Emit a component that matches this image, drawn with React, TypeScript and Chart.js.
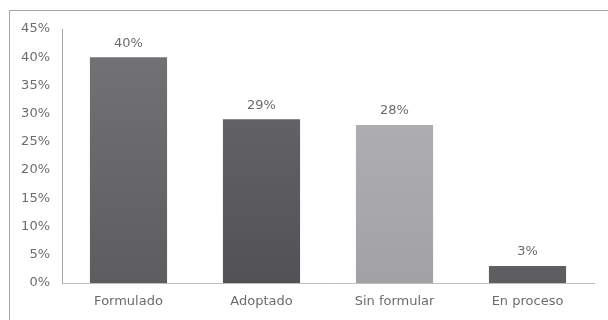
import React, { useEffect, useRef } from "react";
import { Chart, registerables } from "chart.js";

Chart.register(...registerables);

const categories = ["Formulado", "Adoptado", "Sin formular", "En proceso"];
const values = [40, 29, 28, 3];
const yTicks = [0, 5, 10, 15, 20, 25, 30, 35, 40, 45];
const gradTop = ["#747477", "#6b6b6e", "#b5b5b8", "#727275"];
const gradBottom = ["#5d5d60", "#525254", "#a2a2a5", "#5d5d60"];

const FONT = "'DejaVu Sans', sans-serif";
const TEXT = "#6c6c6c";
const SIZE = 13;

export default function App() {
  const ref = useRef<HTMLCanvasElement | null>(null);

  useEffect(() => {
    if (!ref.current) return;
    const borderPlugin = {
      id: "outerBorder",
      beforeDraw(chart: any) {
        const ctx = chart.ctx;
        ctx.save();
        ctx.fillStyle = "#ffffff";
        ctx.fillRect(0, 0, chart.width, chart.height);
        ctx.strokeStyle = "#a6a6a6";
        ctx.lineWidth = 1;
        ctx.strokeRect(9.5, 10.5, 800, 600);
        ctx.restore();
      },
    };
    const labelPlugin = {
      id: "valueLabels",
      afterDatasetsDraw(chart: any) {
        const ctx = chart.ctx;
        const meta = chart.getDatasetMeta(0);
        ctx.save();
        ctx.fillStyle = TEXT;
        ctx.font = `${SIZE}px ${FONT}`;
        ctx.textAlign = "center";
        ctx.textBaseline = "middle";
        meta.data.forEach((bar: any, i: number) => {
          ctx.fillText(values[i] + "%", bar.x, bar.y - 14);
        });
        ctx.restore();
      },
    };
    const chart = new Chart(ref.current, {
      type: "bar",
      data: {
        labels: categories,
        datasets: [
          {
            data: values,
            backgroundColor: (c: any) => {
              const area = c.chart.chartArea;
              const i = c.dataIndex;
              if (!area || i === undefined) return gradBottom[0];
              const g = c.chart.ctx.createLinearGradient(0, area.top, 0, area.bottom);
              g.addColorStop(0, gradTop[i]);
              g.addColorStop(1, gradBottom[i]);
              return g;
            },
            borderWidth: 0,
            categoryPercentage: 1,
            barPercentage: 0.58,
          },
        ],
      },
      options: {
        animation: false,
        responsive: false,
        maintainAspectRatio: false,
        devicePixelRatio: 1,
        layout: { padding: { left: 9, right: 14, top: 29, bottom: 5 } },
        plugins: { legend: { display: false }, tooltip: { enabled: false } },
        scales: {
          x: {
            grid: { display: false, drawTicks: false },
            border: { display: true, color: "#bfbfbf", width: 1 },
            ticks: { color: TEXT, font: { family: FONT, size: SIZE }, padding: 11 },
            afterFit: (s: any) => {
              s.height = 32;
            },
          },
          y: {
            min: 0,
            max: 45,
            afterBuildTicks: (s: any) => {
              s.ticks = yTicks.map((v) => ({ value: v }));
            },
            grid: { display: false, drawTicks: false },
            border: { display: true, color: "#a6a6a6", width: 1 },
            ticks: {
              color: TEXT,
              font: { family: FONT, size: SIZE },
              padding: 12,
              callback: (v: any) => v + "%",
            },
            afterFit: (s: any) => {
              s.width = 53;
            },
          },
        },
      },
      plugins: [borderPlugin, labelPlugin],
    } as any);
    return () => chart.destroy();
  }, []);

  return (
    <div style={{ position: "fixed", left: 0, top: 0, width: 608, height: 320 }}>
      <canvas ref={ref} width={608} height={320} style={{ width: 608, height: 320 }} />
    </div>
  );
}
